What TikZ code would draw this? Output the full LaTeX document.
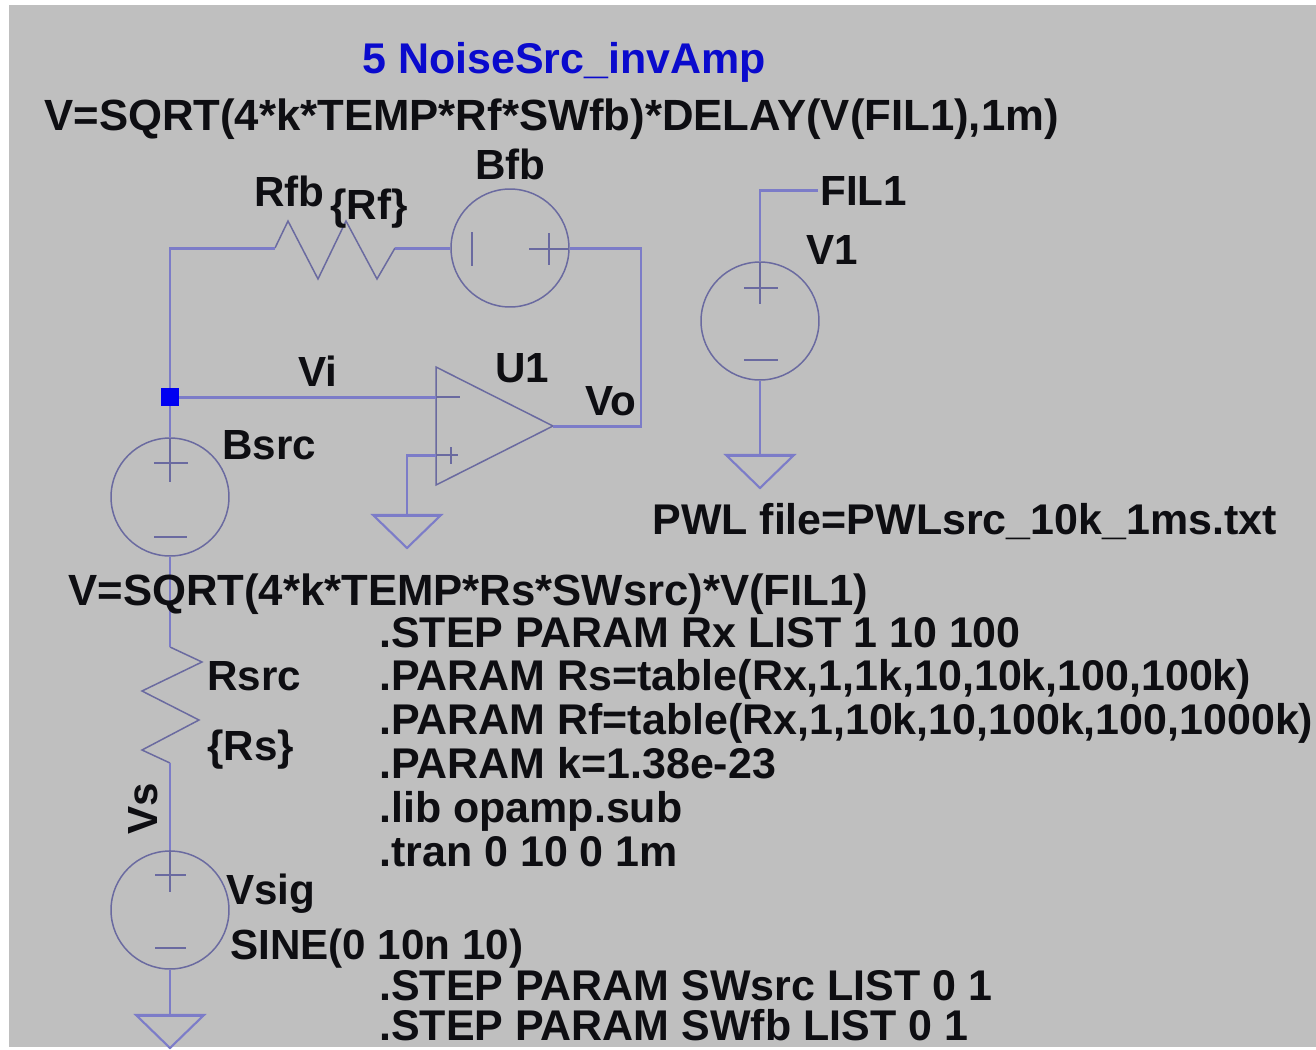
\documentclass[tikz,border=0pt]{standalone}
\usepackage{fontspec}
\setmainfont{Liberation Sans}
\usetikzlibrary{calc}
\definecolor{sheet}{RGB}{191,191,191}
\definecolor{wirecol}{RGB}{124,124,200}
\definecolor{partcol}{RGB}{106,106,160}
\definecolor{titlecol}{RGB}{10,10,205}
\definecolor{inkcol}{RGB}{14,14,18}
\tikzset{
  wire/.style={draw=wirecol,line width=1.7pt},
  part/.style={draw=partcol,line width=0.85pt,line join=miter},
  srccircle/.style={circle,part,minimum size=2.36cm,inner sep=0pt},
  label/.style={anchor=base west,inner sep=0pt,text=inkcol,font=\bfseries\fontsize{24}{28}\selectfont},
  cmdlabel/.style={label,font=\bfseries\fontsize{24.45}{28}\selectfont},
  eqlabel/.style={label,font=\bfseries\fontsize{24.87}{28}\selectfont}
}
\begin{document}
\begin{tikzpicture}[x=0.02cm,y=-0.02cm]

% page and sheet:
\pgfmathsetmacro\pwidth{1316};
\pgfmathsetmacro\pheight{1049};
\useasboundingbox (0,0) rectangle (\pwidth,\pheight);
\fill[sheet] (9,5) rectangle (\pwidth,1047);

\newcommand{\thisground}[2]{
  \coordinate (#1) at (#2);
  \draw[wire,line width=1.2pt] ($(#1)+(-34,0)$)--($(#1)+(34,0)$)--($(#1)+(0,33)$)--cycle;
  \draw[wire] ($(#1)+(-34,0)$)--($(#1)+(34,0)$);
}

% sources:
\node[srccircle] (Bfbsym) at (510,248) {};
\node[srccircle] (V1sym) at (760,321) {};
\node[srccircle] (Bsrcsym) at (170,497) {};
\node[srccircle] (Vsigsym) at (170,910) {};

% polarity marks:
\draw[part] (472,232)--(472,266) (529,249)--(569,249) (549,233)--(549,265);
\draw[part] (744,288)--(778,288) (760,262)--(760,304) (744,360)--(778,360);
\draw[part] (154,463)--(188,463) (170,438)--(170,482) (154,537)--(187,537);
\draw[part] (155,875)--(186,875) (170,850)--(170,892) (155,948)--(186,948);

% op amp:
\coordinate (U1in) at (436,397);
\coordinate (U1ip) at (436,455);
\coordinate (U1out) at (553,426);
\draw[part] (436,367)--(436,485)--(U1out)--cycle;
\draw[part] (U1in)--(460,397) (U1ip)--(458,455) (451,447)--(451,464);

% ground symbols:
\thisground{gndA}{407,515}
\thisground{gndB}{760,455}
\thisground{gndC}{170,1015}

% resistors:
\coordinate (Rfba) at (275,248);
\coordinate (Rfbb) at (395,248);
\coordinate (Rsrca) at (170,647);
\coordinate (Rsrcb) at (170,763);
\draw[part] (Rfba)--(288,221)--(318,279)--(346,221)--(377,279)--(Rfbb);
\draw[part] (Rsrca)--(202,662)--(142,691)--(199,720)--(142,750)--(Rsrcb);

% wires:
\coordinate (Vinode) at (170,397);
\coordinate (FILend) at (818,190);
\coordinate (fbright) at (641,248);
\coordinate (fbdown) at (641,426);
\draw[wire] (Vinode)--(170,248)--(Rfba);
\draw[wire] (Rfbb)--(Bfbsym.west);
\draw[wire] (Bfbsym.east)--(fbright)--(fbdown)--(U1out);
\draw[wire] (Vinode)--(U1in);
\draw[wire] (Vinode)--(Bsrcsym.north);
\draw[wire] (Bsrcsym.south)--(Rsrca);
\draw[wire] (Rsrcb)--(Vsigsym.north);
\draw[wire] (Vsigsym.south)--(gndC);
\draw[wire] (U1ip)--(407,455)--(gndA);
\draw[wire] (V1sym.north)--(760,190)--(FILend);
\draw[wire] (V1sym.south)--(gndB);
\fill[blue!95!black] (161,388) rectangle (179,406);

% texts:
\node[cmdlabel,text=titlecol] (title) at (362,73) {5 NoiseSrc\_invAmp};
\node[eqlabel] (Bfbval) at (44,130) {V=SQRT(4*k*TEMP*Rf*SWfb)*DELAY(V(FIL1),1m)};
\node[label] (Bfb) at (475,179) {Bfb};
\node[label] (Rfb) at (254,206) {Rfb};
\node[label] (Rfbval) at (330,219) {\{Rf\}};
\node[label] (FIL) at (820,205) {FIL1};
\node[label] (V1) at (806,264) {V1};
\node[label] (Vi) at (298,386) {Vi};
\node[label] (U1) at (495,382) {U1};
\node[label] (Vo) at (585,415) {Vo};
\node[label] (Bsrc) at (222,459) {Bsrc};
\node[cmdlabel] (V1val) at (652,534) {PWL file=PWLsrc\_10k\_1ms.txt};
\node[eqlabel] (Bsrcval) at (68,605) {V=SQRT(4*k*TEMP*Rs*SWsrc)*V(FIL1)};
\node[label] (Rsrc) at (207,690) {Rsrc};
\node[label] (Rsrcval) at (207,760) {\{Rs\}};
\node[label,rotate=90] (Vs) at (157,835) {Vs};
\node[label] (Vsig) at (226,904) {Vsig};
\node[label] (Vsigval) at (230,959) {SINE(0 10n 10)};

\foreach \nm/\yy/\txt in {
  cmdA/647/{.STEP PARAM Rx LIST 1 10 100},
  cmdB/690/{.PARAM Rs=table(Rx,1,1k,10,10k,100,100k)},
  cmdC/734/{.PARAM Rf=table(Rx,1,10k,10,100k,100,1000k)},
  cmdD/778/{.PARAM k=1.38e-23},
  cmdE/822/{.lib opamp.sub},
  cmdF/866/{.tran 0 10 0 1m},
  cmdG/1000/{.STEP PARAM SWsrc LIST 0 1},
  cmdH/1040/{.STEP PARAM SWfb LIST 0 1}}{
  \node[cmdlabel] (\nm) at (379,\yy) {\txt};
}

\end{tikzpicture}
\end{document}
